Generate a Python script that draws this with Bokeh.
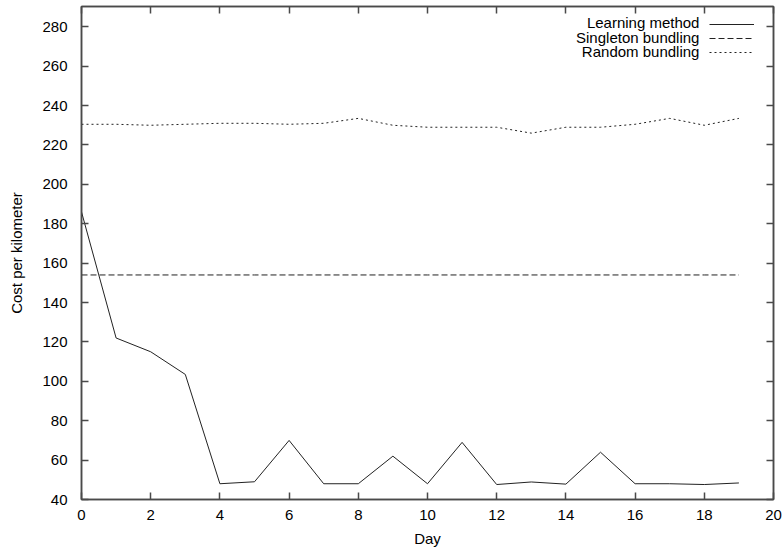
from bokeh.plotting import figure
from bokeh.models import (ColumnDataSource, LinearAxis, Range1d, SingleIntervalTicker,
                          Legend, LegendItem, Label, CustomLabelingPolicy)
from bokeh.core.properties import value
from bokeh.embed import file_html
from bokeh.resources import INLINE

# ---- data ----
days = list(range(20))
learning = [186, 122, 115, 103.5, 48, 49, 70, 48, 48, 62, 48, 69, 47.6, 48.9, 47.8, 64, 48, 48, 47.6, 48.4]
singleton = [154] * 20
random_b = [230.5, 230.5, 230, 230.5, 231, 231, 230.5, 231, 233.5, 230, 229, 229, 229, 226, 229, 229, 230.5, 233.5, 230, 233.5]
x_ticks = list(range(0, 21, 2))
y_ticks = list(range(40, 281, 20))
series_names = ["Learning method", "Singleton bundling", "Random bundling"]
x_label = "Day"
y_label = "Cost per kilometer"

FONT = "Liberation Sans"
FS = "15px"
FRAME = "#4a4a4a"

p = figure(width=784, height=550, output_backend="svg", toolbar_location=None,
           x_range=Range1d(0, 20), y_range=Range1d(40, 290.3),
           min_border_left=81, min_border_right=11, min_border_top=6, min_border_bottom=51)
p.grid.visible = False
p.outline_line_color = FRAME
p.outline_line_width = 1.5
p.background_fill_color = "white"
p.border_fill_color = "white"

src = ColumnDataSource(dict(day=days, learning=learning, singleton=singleton, random_b=random_b))
r1 = p.line("day", "learning", source=src, line_color="#222222", line_width=1)
r2 = p.line("day", "singleton", source=src, line_color="#222222", line_width=1, line_dash="6 3")
r3 = p.line("day", "random_b", source=src, line_color="#222222", line_width=1, line_dash="2 3")

hide_all = CustomLabelingPolicy(code="""
    const all = [...indices]
    for (const i of all) indices.unset(i)
    return indices
""")

def style(ax, labels=True, ticks=None):
    ax.axis_line_color = FRAME
    ax.axis_line_width = 1.5
    ax.major_tick_in = 7
    ax.major_tick_out = 0
    ax.major_tick_line_color = FRAME
    ax.major_tick_line_width = 1.5
    ax.minor_tick_line_color = None
    ax.major_label_text_font = FONT
    ax.major_label_text_font_size = FS
    ax.major_label_text_color = "black"
    ax.axis_label_text_font = FONT
    ax.axis_label_text_font_size = FS
    ax.axis_label_text_font_style = "normal"
    ax.axis_label_text_color = "black"
    if not labels:
        ax.major_label_policy = hide_all
        ax.major_label_overrides = {t: "" for t in ticks}
        ax.major_label_text_font_size = "1px"
        ax.major_label_standoff = 0

p.xaxis.ticker = SingleIntervalTicker(interval=2)
p.yaxis.ticker = SingleIntervalTicker(interval=20)
p.xaxis.axis_label = x_label
p.yaxis.axis_label = y_label
style(p.xaxis[0])
style(p.yaxis[0])
p.xaxis.major_label_standoff = 6
p.xaxis.axis_label_standoff = 7
p.yaxis.major_label_standoff = 10
p.yaxis.axis_label_standoff = 14

top = LinearAxis(ticker=SingleIntervalTicker(interval=2))
right = LinearAxis(ticker=SingleIntervalTicker(interval=20))
style(top, labels=False, ticks=x_ticks)
style(right, labels=False, ticks=y_ticks)
p.add_layout(top, "above")
p.add_layout(right, "right")

legend = Legend(items=[LegendItem(label=value(""), renderers=[r]) for r in (r1, r2, r3)],
                location=(628, 441), glyph_width=45, glyph_height=12, label_height=12,
                label_width=0, label_standoff=0, spacing=2, padding=0, margin=0,
                border_line_color=None, background_fill_alpha=0,
                label_text_font_size="1px")
p.add_layout(legend)

for name, yv in zip(series_names, [282, 274.6, 267.2]):
    p.add_layout(Label(x=17.86, y=yv, text=name, text_align="right", text_baseline="middle",
                       text_font=FONT, text_font_size=FS, text_color="black"))

open("out.html", "w").write(file_html(p, INLINE))
